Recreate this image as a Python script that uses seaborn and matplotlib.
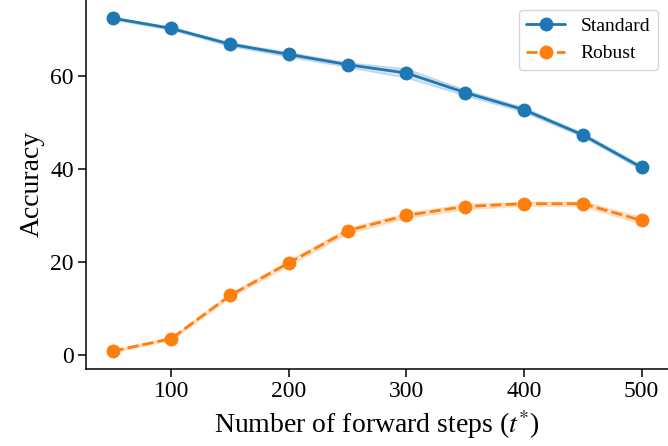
"""Accuracy vs. number of forward steps for standard and robust evaluation."""

import matplotlib

matplotlib.use("Agg")

import matplotlib.pyplot as plt
import pandas as pd
import seaborn as sns

steps = [50, 100, 150, 200, 250, 300, 350, 400, 450, 500]

# three runs per setting (band = spread across runs)
standard_runs = [
    [72.2, 70.0, 66.5, 64.2, 62.0, 59.7, 55.9, 52.3, 47.0, 39.9],
    [72.5, 70.3, 66.9, 64.7, 62.5, 60.7, 56.5, 52.8, 47.4, 40.4],
    [72.8, 70.6, 67.3, 65.2, 63.0, 61.7, 57.1, 53.3, 47.8, 40.9],
]
robust_runs = [
    [0.7, 3.3, 12.5, 19.4, 26.2, 29.6, 31.4, 32.2, 32.1, 28.3],
    [0.9, 3.6, 12.9, 19.9, 26.8, 30.1, 32.0, 32.6, 32.6, 29.0],
    [1.1, 3.9, 13.3, 20.4, 27.4, 30.6, 32.6, 33.0, 33.1, 29.7],
]


def _long_frame() -> pd.DataFrame:
    rows = []
    for name, runs in [("Standard", standard_runs), ("Robust", robust_runs)]:
        for seed, values in enumerate(runs):
            for step, acc in zip(steps, values):
                rows.append({"steps": step, "accuracy": acc, "method": name, "seed": seed})
    return pd.DataFrame(rows)


sns.set_style("ticks")
plt.rcParams["font.family"] = ["Liberation Serif", "DejaVu Serif"]
plt.rcParams["mathtext.fontset"] = "stix"
for key in ["text.color", "axes.labelcolor", "xtick.color", "ytick.color", "axes.edgecolor"]:
    plt.rcParams[key] = "black"

frame = _long_frame()

fig, ax = plt.subplots(figsize=(6.68, 4.46), dpi=100)
sns.lineplot(
    data=frame,
    x="steps",
    y="accuracy",
    hue="method",
    style="method",
    markers=["o", "o"],
    dashes=True,
    errorbar="sd",
    linewidth=2,
    markersize=10,
    markeredgewidth=0,
    ax=ax,
)
sns.despine(ax=ax)
sns.move_legend(ax, "upper right", title=None, fontsize=14, frameon=True)

ax.set_xlabel("Number of forward steps ($t^{*}$)", fontsize=20)
ax.set_ylabel("Accuracy", fontsize=20)
ax.set_xticks([100, 200, 300, 400, 500])
ax.set_yticks([0, 20, 40, 60])
ax.tick_params(labelsize=17, length=5.5, width=1.1)
for spine in ax.spines.values():
    spine.set_linewidth(1.1)

fig.subplots_adjust(left=0.129, right=1.0, top=1.0, bottom=0.173)
fig.savefig("out.png", dpi=100)
plt.close(fig)
